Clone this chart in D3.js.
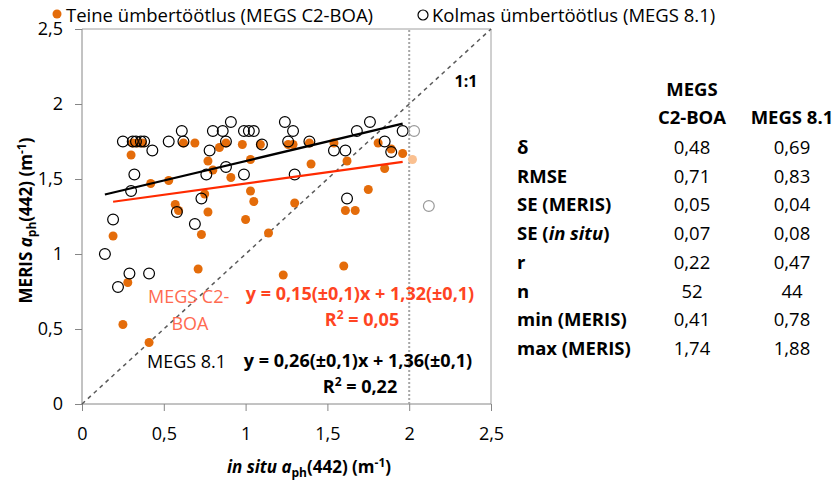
<!DOCTYPE html>
<html>
<head>
<meta charset="utf-8">
<script src="https://cdn.jsdelivr.net/npm/d3@7"></script>
<style>
  body { margin: 0; background: #fff; }
  svg { font-family: "Open Sans", sans-serif; }
  .axis path, .axis line { stroke: #868686; }
  .axis text { font-family: "Open Sans", sans-serif; font-size: 18px; fill: #000; }
</style>
</head>
<body>
<div id="chart"></div>
<script>
// MEGS 8.1 points (open circles), in situ vs MERIS
var megs81 = [
  [0.25,1.75],[0.31,1.75],[0.33,1.75],[0.36,1.75],[0.38,1.75],[0.43,1.69],[0.53,1.75],[0.61,1.82],
  [0.62,1.75],[0.80,1.82],[0.86,1.82],[0.91,1.88],[0.88,1.75],[0.78,1.69],[0.99,1.82],[1.02,1.82],
  [1.05,1.82],[1.10,1.73],[0.32,1.53],[0.30,1.42],[0.76,1.53],[0.88,1.58],[0.99,1.53],[0.73,1.37],
  [0.58,1.28],[0.19,1.23],[0.69,1.20],[1.24,1.88],[1.29,1.82],[1.26,1.75],[1.39,1.75],[1.54,1.69],
  [1.61,1.69],[1.68,1.82],[1.76,1.88],[1.85,1.75],[1.89,1.68],[1.96,1.82],[1.30,1.53],[1.62,1.37],
  [0.14,1.00],[0.29,0.87],[0.41,0.87],[0.22,0.78]
];
var megs81Out = [[2.03,1.82],[2.12,1.32]];

// MEGS C2-BOA points (filled dots)
var c2boa = [
  [0.31,1.74],[0.34,1.74],[0.37,1.74],[0.30,1.66],[0.62,1.74],[0.69,1.74],[0.84,1.71],[0.88,1.74],
  [0.98,1.73],[1.09,1.73],[0.77,1.62],[0.80,1.56],[0.91,1.51],[1.03,1.63],[0.42,1.47],[0.53,1.49],
  [1.03,1.42],[1.05,1.35],[0.57,1.33],[0.59,1.29],[0.77,1.28],[1.00,1.23],[0.75,1.40],[1.26,1.73],
  [1.29,1.73],[1.39,1.74],[1.54,1.74],[1.40,1.60],[1.62,1.62],[1.81,1.74],[1.89,1.70],[1.96,1.67],
  [1.85,1.57],[1.30,1.34],[1.75,1.43],[1.61,1.29],[1.67,1.29],[1.14,1.14],[1.23,0.86],[1.60,0.92],
  [0.19,1.12],[0.73,1.13],[0.71,0.90],[0.28,0.81],[0.25,0.53],[0.41,0.41]
];
var c2boaOut = [[2.02,1.63]];

// regression fits: slope, intercept, x range
var fitC2boa = { slope: 0.15, icept: 1.32, from: 0.19, to: 1.96 };
var fit81 = { slope: 0.26, icept: 1.36, from: 0.14, to: 1.96 };

var xTicks = [0, 0.5, 1, 1.5, 2, 2.5];
var yTicks = [0, 0.5, 1, 1.5, 2, 2.5];

// statistics table
var statLabels = ["δ", "RMSE", "SE (MERIS)", "SE (in situ)", "r", "n", "min (MERIS)", "max (MERIS)"];
var statC2boa = ["0,48", "0,71", "0,05", "0,07", "0,22", "52", "0,41", "1,74"];
var stat81 = ["0,69", "0,83", "0,04", "0,08", "0,47", "44", "0,78", "1,88"];

var orange = "#e46c0a", redLine = "#ff2a00", redText = "#ff4422";

var width = 840, height = 483;
var plot = { left: 82, right: 491, top: 29, bottom: 404 };

var svg = d3.select("#chart").append("svg")
  .attr("width", width).attr("height", height);

var x = d3.scaleLinear().domain([0, 2.5]).range([plot.left, plot.right]);
var y = d3.scaleLinear().domain([0, 2.5]).range([plot.bottom, plot.top]);

var fmt = function(d) { return String(d).replace(".", ","); };

// frame top and right
svg.append("path")
  .attr("d", "M" + plot.left + "," + plot.top + "H" + plot.right + "V" + plot.bottom)
  .attr("fill", "none").attr("stroke", "#a0a0a0");

// axes
var xAxis = svg.append("g").attr("class", "axis")
  .attr("transform", "translate(0," + plot.bottom + ")")
  .call(d3.axisBottom(x).tickValues(xTicks).tickFormat(fmt).tickSize(7).tickPadding(16));
var yAxis = svg.append("g").attr("class", "axis")
  .attr("transform", "translate(" + plot.left + ",0)")
  .call(d3.axisLeft(y).tickValues(yTicks).tickFormat(fmt).tickSize(7).tickPadding(12));
xAxis.select(".domain").attr("d", "M" + plot.left + ",0H" + plot.right);
yAxis.select(".domain").attr("d", "M0," + plot.bottom + "V" + plot.top);

// 1:1 line
svg.append("line")
  .attr("x1", x(0)).attr("y1", y(0)).attr("x2", x(2.5)).attr("y2", y(2.5))
  .attr("stroke", "#595959").attr("stroke-width", 1.5).attr("stroke-dasharray", "4,4");
// x = 2 limit
svg.append("line")
  .attr("x1", x(2)).attr("y1", y(0)).attr("x2", x(2)).attr("y2", y(2.5))
  .attr("stroke", "#a6a6a6").attr("stroke-width", 2).attr("stroke-dasharray", "2,2");

svg.append("text").attr("x", 466).attr("y", 87)
  .attr("text-anchor", "middle").attr("font-weight", "bold").attr("font-size", 16)
  .text("1:1");

// points
svg.append("g").selectAll("circle").data(c2boa).enter().append("circle")
  .attr("cx", function(d) { return x(d[0]); })
  .attr("cy", function(d) { return y(d[1]); })
  .attr("r", 4.5).attr("fill", orange);
svg.append("g").selectAll("circle").data(c2boaOut).enter().append("circle")
  .attr("cx", function(d) { return x(d[0]); })
  .attr("cy", function(d) { return y(d[1]); })
  .attr("r", 4.5).attr("fill", "#fac090");

svg.append("g").selectAll("circle").data(megs81).enter().append("circle")
  .attr("cx", function(d) { return x(d[0]); })
  .attr("cy", function(d) { return y(d[1]); })
  .attr("r", 5.4).attr("fill", "none").attr("stroke", "#000").attr("stroke-width", 1.2);
svg.append("g").selectAll("circle").data(megs81Out).enter().append("circle")
  .attr("cx", function(d) { return x(d[0]); })
  .attr("cy", function(d) { return y(d[1]); })
  .attr("r", 5.4).attr("fill", "none").attr("stroke", "#999").attr("stroke-width", 1.2);

// fit lines
var drawFit = function(fit, colour) {
  svg.append("line")
    .attr("x1", x(fit.from)).attr("y1", y(fit.icept + fit.slope * fit.from))
    .attr("x2", x(fit.to)).attr("y2", y(fit.icept + fit.slope * fit.to))
    .attr("stroke", colour).attr("stroke-width", 2.2);
};
drawFit(fitC2boa, redLine);
drawFit(fit81, "#000");

// equation labels
svg.append("text").attr("x", 148).attr("y", 303).attr("font-size", 18).attr("fill", "#ff6a50").text("MEGS C2-");
svg.append("text").attr("x", 190).attr("y", 330).attr("font-size", 18).attr("fill", "#ff6a50")
  .attr("text-anchor", "middle").text("BOA");
svg.append("text").attr("x", 360).attr("y", 300).attr("font-size", 18).attr("font-weight", "bold")
  .attr("fill", redText).attr("text-anchor", "middle").text("y = 0,15(±0,1)x + 1,32(±0,1)");
var r2a = svg.append("text").attr("x", 362).attr("y", 326).attr("font-size", 18).attr("font-weight", "bold")
  .attr("fill", redText).attr("text-anchor", "middle");
r2a.append("tspan").text("R");
r2a.append("tspan").attr("dy", -7).attr("font-size", 12).text("2");
r2a.append("tspan").attr("dy", 7).text(" = 0,05");

svg.append("text").attr("x", 147).attr("y", 368).attr("font-size", 18).attr("fill", "#000").text("MEGS 8.1");
svg.append("text").attr("x", 358).attr("y", 367).attr("font-size", 18).attr("font-weight", "bold")
  .attr("text-anchor", "middle").text("y = 0,26(±0,1)x + 1,36(±0,1)");
var r2b = svg.append("text").attr("x", 360).attr("y", 393).attr("font-size", 18).attr("font-weight", "bold")
  .attr("text-anchor", "middle");
r2b.append("tspan").text("R");
r2b.append("tspan").attr("dy", -7).attr("font-size", 12).text("2");
r2b.append("tspan").attr("dy", 7).text(" = 0,22");

// axis titles
var xt = svg.append("text").attr("x", 309).attr("y", 473).attr("text-anchor", "middle")
  .attr("font-size", 17).attr("font-weight", "bold");
xt.append("tspan").attr("font-style", "italic").text("in situ a");
xt.append("tspan").attr("dy", 4).attr("font-size", 12).text("ph");
xt.append("tspan").attr("dy", -4).text("(442) (m");
xt.append("tspan").attr("dy", -6).attr("font-size", 12).text("-1");
xt.append("tspan").attr("dy", 6).text(")");

var yt = svg.append("text").attr("transform", "translate(32," + ((plot.top + plot.bottom) / 2 + 4) + ") rotate(-90)")
  .attr("text-anchor", "middle").attr("font-size", 17).attr("font-weight", "bold");
yt.append("tspan").text("MERIS ");
yt.append("tspan").attr("font-style", "italic").text("a");
yt.append("tspan").attr("dy", 4).attr("font-size", 12).text("ph");
yt.append("tspan").attr("dy", -4).text("(442) (m");
yt.append("tspan").attr("dy", -6).attr("font-size", 12).text("-1");
yt.append("tspan").attr("dy", 6).text(")");

// legend
svg.append("circle").attr("cx", 57).attr("cy", 14).attr("r", 4.5).attr("fill", orange);
svg.append("text").attr("x", 66).attr("y", 22).attr("font-size", 18.5).text("Teine ümbertöötlus (MEGS C2-BOA)");
svg.append("circle").attr("cx", 423).attr("cy", 15).attr("r", 5).attr("fill", "none")
  .attr("stroke", "#000").attr("stroke-width", 1.2);
svg.append("text").attr("x", 432).attr("y", 22).attr("font-size", 18.5).text("Kolmas ümbertöötlus (MEGS 8.1)");

// statistics table
var tbl = svg.append("g").attr("font-size", 18.5);
var col1 = 692, col2 = 792, rowY0 = 154, rowH = 28.7;
tbl.append("text").attr("x", col1).attr("y", 96).attr("text-anchor", "middle").attr("font-weight", "bold").text("MEGS");
tbl.append("text").attr("x", col1).attr("y", 124).attr("text-anchor", "middle").attr("font-weight", "bold").text("C2-BOA");
tbl.append("text").attr("x", col2).attr("y", 124).attr("text-anchor", "middle").attr("font-weight", "bold").text("MEGS 8.1");

statLabels.forEach(function(lbl, i) {
  var t = tbl.append("text").attr("x", 517).attr("y", rowY0 + i * rowH).attr("font-weight", "bold");
  if (lbl === "SE (in situ)") {
    t.append("tspan").text("SE (");
    t.append("tspan").attr("font-style", "italic").text("in situ");
    t.append("tspan").text(")");
  } else {
    t.text(lbl);
  }
  tbl.append("text").attr("x", col1).attr("y", rowY0 + i * rowH).attr("text-anchor", "middle").text(statC2boa[i]);
  tbl.append("text").attr("x", col2).attr("y", rowY0 + i * rowH).attr("text-anchor", "middle").text(stat81[i]);
});
</script>
</body>
</html>
